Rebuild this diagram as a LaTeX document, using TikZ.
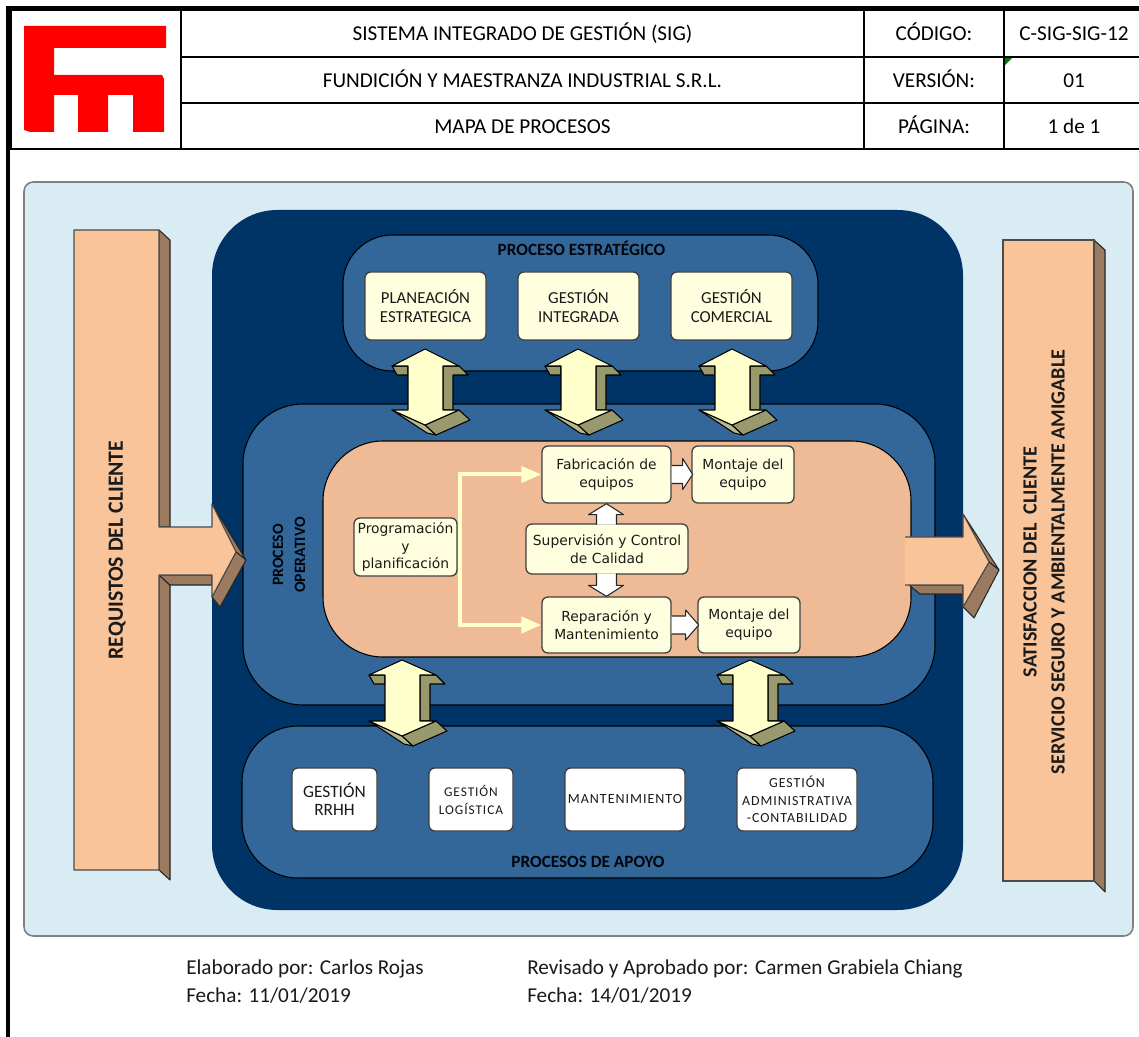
\documentclass[tikz,border=0pt]{standalone}
\usepackage{fontspec}
\setmainfont{Carlito}
\newfontfamily\verd{DejaVu Sans}
\newfontfamily\spaced[LetterSpace=7]{Carlito}
\usetikzlibrary{arrows.meta}
\definecolor{panelblue}{HTML}{DAECF3}
\definecolor{navy}{HTML}{003366}
\definecolor{midblue}{HTML}{336699}
\definecolor{peach}{HTML}{EFBB96}
\definecolor{barpeach}{HTML}{F9C499}
\definecolor{sidebrown}{HTML}{9B7B60}
\definecolor{creamy}{HTML}{FFFFDF}
\definecolor{creamarrow}{HTML}{FFFFCC}
\definecolor{olive}{HTML}{99996E}
\definecolor{inktxt}{HTML}{1A1A1A}
\definecolor{logored}{HTML}{FF0000}
\definecolor{markgreen}{HTML}{007A00}
\newcommand{\szfont}[2]{\fontsize{#1}{#2}\selectfont}
\tikzset{
  px/.style={x=0.75pt,y=-0.75pt},
  rule/.style={draw=black,line width=1.6pt},
  headtxt/.style={font=\szfont{15.9}{18},text=black,inner sep=0pt,text height=10pt,text depth=0pt},
  foottxt/.style={font=\szfont{15.9}{21},text=inktxt,inner sep=0pt,anchor=west,text height=10pt,text depth=0pt},
  band/.style={draw=black,line width=0.8pt,fill=midblue},
  creambox/.style={draw=black!75,line width=1pt,fill=creamy,rounded corners=4.5pt,inner sep=0pt,align=center,text=inktxt},
  whitebox/.style={draw=black!75,line width=1pt,fill=white,rounded corners=4.5pt,inner sep=0pt,align=center,text=inktxt},
  flowtxt/.style={font=\verd\szfont{10.4}{13.3}},
  toptxt/.style={font=\szfont{12.6}{14.5}},
  bartxt/.style={font=\bfseries\szfont{16.3}{21},text=inktxt,align=center,rotate=90,inner sep=0pt},
  bartxtb/.style={font=\bfseries\szfont{15.1}{21},text=inktxt,align=center,rotate=90,inner sep=0pt},
  bandtxt/.style={font=\bfseries\szfont{12.9}{15},text=black!90!navy,inner sep=0pt},
  sidetxt/.style={font=\bfseries\szfont{11.8}{16.5},text=black!90!navy,align=center,rotate=90,inner sep=0pt},
  yellowflow/.style={draw=creamarrow,line width=3pt,-{Triangle[length=15pt,width=12pt,fill=creamarrow]}},
  whitearrow/.style={draw=black!85,line width=0.8pt,fill=white,line join=round},
}
% name, x1,y1,x2,y2, style, text
\newcommand{\cell}[7]{\node[#6,minimum width={(#4-#2)*0.75pt},minimum height={(#5-#3)*0.75pt}] (#1) at ({(#2+#4)/2},{(#3+#5)/2}) {#7};}
% centre x, apex y, shoulder y, lower y, lower apex y
\newcommand{\dblarrow}[5]{%
  \fill[olive,draw=black,line width=0.8pt,line join=round] ({#1-33},#3) -- ({#1-28},{#3+9}) -- ({#1-17},{#3+9}) -- ({#1-17},#3) -- cycle;
  \fill[olive,draw=black,line width=0.8pt,line join=round] ({#1+18},#3) -- ({#1+34},#3) -- ({#1+43},{#3+9}) -- ({#1+28},{#3+9}) -- ({#1+28},#4) -- ({#1+18},#4) -- cycle;
  \fill[olive!70!creamarrow,draw=black,line width=0.8pt,line join=round] ({#1-33},#4) -- ({#1+2},{#5+8}) -- ({#1+11},{#5+10}) -- (#1,#5) -- cycle;
  \fill[olive,draw=black,line width=0.8pt,line join=round] (#1,#5) -- ({#1+34},#4) -- ({#1+45},{#4+10}) -- ({#1+11},{#5+10}) -- cycle;
  \fill[creamarrow,draw=black,line width=0.8pt,line join=round] (#1,#2) -- ({#1+34},#3) -- ({#1+18},#3) -- ({#1+18},#4) -- ({#1+34},#4) -- (#1,#5) -- ({#1-33},#4) -- ({#1-17},#4) -- ({#1-17},#3) -- ({#1-33},#3) -- cycle;
}
\begin{document}
\begin{tikzpicture}[px]
\useasboundingbox (0,0) rectangle (1139,1037);
\fill[white] (0,0) rectangle (1139,1037);

% page frame and header table
\fill[black] (6,6) rectangle (1139,11);
\fill[black] (6,6) rectangle (10,1037);
\draw[rule] (11,11) -- (11,149);
\draw[rule] (10,149) -- (1139,149);
\draw[rule] (181,11) -- (181,149);
\draw[rule] (864,11) -- (864,149);
\draw[rule] (1004,11) -- (1004,149);
\draw[rule] (181,57) -- (1139,57);
\draw[rule] (181,103) -- (1139,103);
\fill[markgreen] (1005,58) -- (1012,58) -- (1005,65) -- cycle;
\fill[logored] (24,26) -- (166,26) -- (166,48) -- (54,48) -- (54,75) -- (162,75) -- (164,79) -- (164,132) -- (133,132) -- (133,95) -- (108,95) -- (108,132) -- (78,132) -- (78,95) -- (54,95) -- (54,132) -- (30,132) -- (24,130) -- cycle;

\node[headtxt] (h1) at (522.5,34) {SISTEMA INTEGRADO DE GESTIÓN (SIG)};
\node[headtxt] (h2) at (522.5,80.5) {FUNDICIÓN Y MAESTRANZA INDUSTRIAL S.R.L.};
\node[headtxt] (h3) at (522.5,126.5) {MAPA DE PROCESOS};
\node[headtxt] (c1) at (934,34) {CÓDIGO:};
\node[headtxt] (c2) at (934,80.5) {VERSIÓN:};
\node[headtxt] (c3) at (934,126.5) {PÁGINA:};
\node[headtxt] (v1) at (1074,34) {C-SIG-SIG-12};
\node[headtxt] (v2) at (1074,80.5) {01};
\node[headtxt] (v3) at (1074,126.5) {1 de 1};

% background panel
\draw[draw=black!50,line width=1.2pt,fill=panelblue,rounded corners=7pt] (24,182) rectangle (1133,936);

% left bar with arrow
\fill[sidebrown,draw=black!85,line width=0.8pt,line join=round] (159,230) -- (170,240) -- (170,527) -- (159,527) -- cycle;
\fill[sidebrown,draw=black!85,line width=0.8pt,line join=round] (159,575) -- (170,585) -- (170,880) -- (159,870) -- cycle;
\fill[sidebrown,draw=black!85,line width=0.8pt,line join=round] (159,575) -- (170,585) -- (212,585) -- (212,575) -- cycle;

% right bar
\fill[sidebrown,draw=black!85,line width=0.8pt,line join=round] (1094,240) -- (1105,250) -- (1105,892) -- (1094,881) -- cycle;
\fill[barpeach,draw=black!70,line width=0.8pt] (1003,240) rectangle (1094,881);

% nested process bands
\fill[navy,rounded corners=49pt] (212,210) rectangle (963,910);
\draw[band,rounded corners=37pt] (343,235) rectangle (818,371);
\draw[band,rounded corners=45pt] (243,404) rectangle (935,705);
\draw[band,rounded corners=42pt] (242,726) rectangle (933,878);
\draw[draw=black,line width=0.8pt,fill=peach,rounded corners=45pt] (323,441) rectangle (911,657);

% left arrow, front face and head side
\fill[sidebrown,draw=black!85,line width=0.8pt,line join=round] (212,504) -- (246,560) -- (236,552) -- cycle;
\fill[sidebrown,draw=black!85,line width=0.8pt,line join=round] (236,552) -- (246,560) -- (220,607) -- (212,597) -- cycle;
\fill[barpeach] (74,230) -- (159,230) -- (159,527) -- (212,527) -- (212,504) -- (236,552) -- (212,597) -- (212,575) -- (159,575) -- (159,870) -- (74,870) -- cycle;
\draw[draw=black!70,line width=0.8pt,line join=round] (74,230) -- (159,230) -- (159,527) -- (212,527) -- (212,504) -- (236,552) -- (212,597) -- (212,575) -- (159,575) -- (159,870) -- (74,870) -- cycle;

% right arrow
\fill[sidebrown,draw=black!85,line width=0.8pt,line join=round] (909,585) -- (920,594) -- (963,594) -- (963,585) -- cycle;
\fill[sidebrown,draw=black!85,line width=0.8pt,line join=round] (963,514) -- (999,570) -- (989,562) -- cycle;
\fill[sidebrown,draw=black!85,line width=0.8pt,line join=round] (989,562) -- (999,570) -- (974,618) -- (963,607) -- cycle;
\fill[barpeach] (905,537) -- (963,537) -- (963,514) -- (989,562) -- (963,607) -- (963,585) -- (905,585) -- cycle;
\draw[draw=black!70,line width=0.8pt,line join=round] (905,537) -- (963,537) -- (963,514) -- (989,562) -- (963,607) -- (963,585) -- (905,585);

% band-to-band double arrows
\dblarrow{425}{349}{366}{410}{425}
\dblarrow{578}{349}{366}{410}{425}
\dblarrow{732}{349}{366}{410}{425}
\dblarrow{402}{660}{675}{721}{736}
\dblarrow{750}{660}{675}{721}{736}

% strategic boxes
\cell{plan}{365}{272}{486}{340}{creambox,toptxt}{PLANEACIÓN\\ESTRATEGICA}
\cell{integ}{518}{272}{639}{340}{creambox,toptxt}{GESTIÓN\\INTEGRADA}
\cell{comer}{671}{272}{792}{340}{creambox,toptxt}{GESTIÓN\\COMERCIAL}

% operative boxes
\cell{prog}{354}{518}{457}{576}{creambox,flowtxt,font=\verd\szfont{10.4}{12.9}}{Programación\\y\\planificación}
\cell{fab}{542}{446}{671}{503}{creambox,flowtxt}{Fabricación de\\equipos}
\cell{mon1}{692}{446}{794}{503}{creambox,flowtxt}{Montaje del\\equipo}
\cell{sup}{526}{524}{688}{574}{creambox,flowtxt}{Supervisión y Control\\de Calidad}
\cell{rep}{542}{597}{671}{653}{creambox,flowtxt}{Reparación y\\Mantenimiento}
\cell{mon2}{698}{597}{800}{653}{creambox,flowtxt}{Montaje del\\equipo}

% support boxes
\cell{rrhh}{292}{768}{377}{831}{whitebox,font=\szfont{13}{13.7}}{GESTIÓN\\RRHH}
\cell{logi}{429}{768}{513}{831}{whitebox,font=\spaced\szfont{10}{13.5}}{GESTIÓN\\LOGÍSTICA}
\cell{mant}{565}{768}{685}{831}{whitebox,font=\spaced\szfont{10.5}{14}}{MANTENIMIENTO}
\cell{admi}{737}{768}{857}{831}{whitebox,font=\spaced\szfont{10.4}{13}}{GESTIÓN\\ADMINISTRATIVA\\-CONTABILIDAD}

% flow connectors
\draw[yellowflow] (prog.east) -- ++(2,0) |- (fab.west);
\draw[yellowflow] (prog.east) -- ++(2,0) |- (rep.west);
\begin{scope}[shift={(fab.east)}]
  \draw[whitearrow] (0,-9) -- (11,-9) -- (11,-16) -- (21,0) -- (11,15) -- (11,9) -- (0,9);
\end{scope}
\begin{scope}[shift={(rep.east)}]
  \draw[whitearrow] (0,-9) -- (14,-9) -- (14,-15) -- (27,0) -- (14,15) -- (14,9) -- (0,9);
\end{scope}
\begin{scope}[shift={(fab.south)}]
  \draw[whitearrow] (-10,21) -- (-10,11) -- (-18,11) -- (0,0) -- (17,11) -- (10,11) -- (10,21);
\end{scope}
\begin{scope}[shift={(rep.north)}]
  \draw[whitearrow] (-10,-23) -- (-10,-11) -- (-18,-11) -- (0,0) -- (17,-11) -- (10,-11) -- (10,-23);
\end{scope}

% labels
\node[bandtxt] (lest) at (581.5,248) {PROCESO ESTRATÉGICO};
\node[bandtxt] (lapo) at (588,862) {PROCESOS DE APOYO};
\node[sidetxt] (lope) at (289,555) {PROCESO\\OPERATIVO};
\node[bartxt] (lreq) at (117,550) {REQUISTOS DEL CLIENTE};
\node[bartxtb] (lsat) at (1044,562) {SATISFACCION DEL \ CLIENTE\\SERVICIO SEGURO Y AMBIENTALMENTE AMIGABLE};

% footer
\node[foottxt] (f1) at (186,968) {Elaborado por: Carlos Rojas};
\node[foottxt] (f2) at (186,996) {Fecha: 11/01/2019};
\node[foottxt] (f3) at (527,968) {Revisado y Aprobado por: Carmen Grabiela Chiang};
\node[foottxt] (f4) at (527,996) {Fecha: 14/01/2019};
\end{tikzpicture}
\end{document}
